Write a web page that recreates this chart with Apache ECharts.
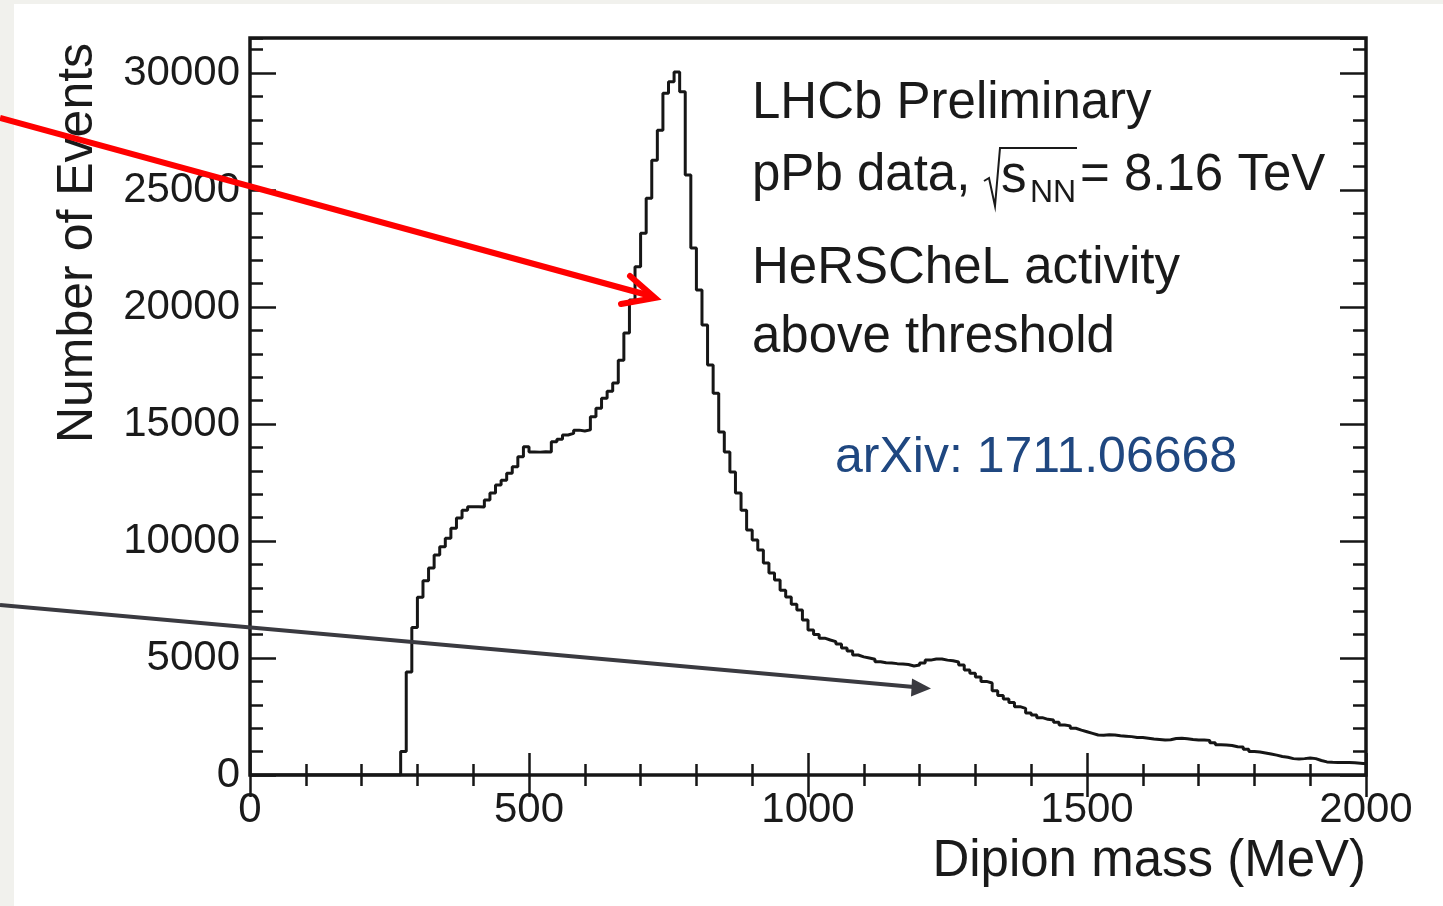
<!DOCTYPE html>
<html>
<head>
<meta charset="utf-8">
<script src="https://cdn.jsdelivr.net/npm/echarts@6/dist/echarts.min.js"></script>
<style>
  html, body { margin: 0; padding: 0; background: #f1f1ed; }
  #paper { position: absolute; left: 14px; top: 4px; width: 1429px; height: 902px; background: #ffffff; }
  #chart { position: absolute; left: 0; top: 0; width: 1443px; height: 906px; }
</style>
</head>
<body>
<div id="paper"></div>
<div id="chart"></div>
<script>
// ---- data ----
const binWidth = 10;           // MeV
const xTickLabels = ['0', '500', '1000', '1500', '2000'];
const yTickLabels = ['0', '5000', '10000', '15000', '20000', '25000', '30000'];
// events per 10 MeV bin, bins starting at 0, 10, 20, ... 1990 MeV
const counts = [
  0,0,0,0,0,0,0,0,0,0, 0,0,0,0,0,0,0,0,0,0, 0,0,0,0,0,0,0,
  1000, 4400, 6300,                                             // 270-290
  7600, 8300, 8850, 9400, 9760, 10120, 10550, 10980, 11320, 11470, // 300-390
  11470, 11450, 11750, 12050, 12390, 12600, 12900, 13170, 13600, 14030, // 400-490
  13810, 13800, 13820, 13810, 14240, 14350, 14530, 14600, 14740, 14700, // 500-590
  14750, 15310, 15680, 16100, 16400, 16750, 17730, 18890, 20300, 21720, // 600-690
  23150, 24650, 26280, 27560, 29140, 29630, 30050, 29200, 25640, 22520, // 700-790
  20730, 19230, 17520, 16320, 14660, 13800, 12950, 12050, 11320, 10470, // 800-890
  10040, 9620, 9060, 8630, 8330, 7900, 7610, 7300, 7050, 6620,          // 900-990
  6200, 6000, 5850, 5770, 5700, 5600, 5430, 5300, 5130, 5050,           // 1000-1090
  5000, 4950, 4840, 4800, 4790, 4760, 4740, 4720, 4660, 4700,           // 1100-1190
  4790, 4910, 4960, 4960, 4910, 4880, 4830, 4700, 4490, 4350,           // 1200-1290
  4190, 4000, 3930, 3600, 3400, 3250, 3100, 2920, 2850, 2650,           // 1300-1390
  2560, 2450, 2380, 2350, 2250, 2140, 2100, 2000, 1920, 1850,           // 1400-1490
  1780, 1710, 1700, 1720, 1710, 1680, 1660, 1640, 1600, 1600,           // 1500-1590
  1570, 1540, 1520, 1500, 1510, 1560, 1570, 1550, 1520, 1500,           // 1600-1690
  1500, 1480, 1380, 1290, 1280, 1260, 1210, 1200, 1100, 1000,           // 1700-1790
  980, 940, 900, 850, 790, 760, 700, 680, 700, 730,                     // 1800-1890
  700, 620, 560, 540, 530, 530, 530, 520, 500, 480                      // 1900-1990
];
const xTitle = 'Dipion mass (MeV)';
const yTitle = 'Number of Events';
const infoLines = ['LHCb Preliminary', 'HeRSCheL activity', 'above threshold'];
const arxivText = 'arXiv: 1711.06668';

// ---- build histogram steps ----
const histData = counts.map((v, i) => [i * binWidth, v]);
histData.push([counts.length * binWidth, counts[counts.length - 1]]);

const chart = echarts.init(document.getElementById('chart'), null, { renderer: 'canvas' });
const FONT = '"Liberation Sans", Arial, Helvetica, sans-serif';
const ink = '#161616';
const txt = '#1a1a1a';

function xAx(pos, showLabel) {
  return {
    type: 'value', position: pos, min: 0, max: 2000, interval: 500,
    axisLine: { show: false },
    splitLine: { show: false },
    axisTick: { show: true, inside: true, length: 22, lineStyle: { color: ink, width: 2.5 } },
    minorTick: { show: true, splitNumber: 5, length: 11, lineStyle: { color: ink, width: 2.5 } },
    axisLabel: showLabel ? {
      show: true, margin: 14, fontSize: 42, color: txt, fontFamily: FONT,
      formatter: v => { const i = xTickLabels.indexOf(String(v)); return i >= 0 ? xTickLabels[i] : ''; }
    } : { show: false }
  };
}
function yAx(pos, interval, len, showLabel) {
  return {
    type: 'value', position: pos, min: 0, max: 31500, interval: interval,
    axisLine: { show: false },
    splitLine: { show: false },
    axisTick: { show: true, inside: true, length: len, lineStyle: { color: ink, width: 2.5 } },
    axisLabel: showLabel ? {
      show: true, margin: 10, fontSize: 42, color: txt, fontFamily: FONT, showMaxLabel: false,
      formatter: v => { const i = yTickLabels.indexOf(String(v)); return i >= 0 ? yTickLabels[i] : ''; }
    } : { show: false }
  };
}

const option = {
  animation: false,
  grid: { left: 250, right: 77, top: 38, bottom: 131, show: true, borderColor: ink, borderWidth: 3.5, backgroundColor: 'transparent' },
  xAxis: [xAx('bottom', true), xAx('top', false)],
  yAxis: [yAx('left', 5000, 26, true), yAx('left', 1000, 13, false), yAx('right', 5000, 26, false), yAx('right', 1000, 13, false)],
  series: [{
    type: 'line', step: 'end', symbol: 'none', xAxisIndex: 0, yAxisIndex: 0,
    data: histData,
    lineStyle: { color: ink, width: 3 },
    z: 3
  }],
  graphic: [
    // y title
    { type: 'text', x: 78, y: 243, rotation: Math.PI / 2, z: 10,
      style: { text: yTitle, font: '50px ' + FONT, fill: txt, textAlign: 'center', textVerticalAlign: 'middle' } },
    // x title
    { type: 'text', x: 1366, y: 862, z: 10,
      style: { text: xTitle, font: '51px ' + FONT, fill: txt, textAlign: 'right', textVerticalAlign: 'middle' } },
    // info text
    { type: 'text', x: 752, y: 104, z: 10,
      style: { text: infoLines[0], font: '51px ' + FONT, fill: txt, textAlign: 'left', textVerticalAlign: 'middle' } },
    { type: 'text', x: 752, y: 176, z: 10,
      style: { text: 'pPb data,', font: '51px ' + FONT, fill: txt, textAlign: 'left', textVerticalAlign: 'middle' } },
    { type: 'polyline', z: 10, shape: { points: [[984, 181], [989, 178], [995, 206], [1000, 148], [1077, 148]] },
      style: { stroke: txt, lineWidth: 2, fill: null } },
    { type: 'text', x: 1001, y: 178, z: 10,
      style: { text: 's', font: '51px ' + FONT, fill: txt, textAlign: 'left', textVerticalAlign: 'middle' } },
    { type: 'text', x: 1030, y: 193, z: 10,
      style: { text: 'NN', font: '32px ' + FONT, fill: txt, textAlign: 'left', textVerticalAlign: 'middle' } },
    { type: 'text', x: 1080, y: 176, z: 10,
      style: { text: '= 8.16 TeV', font: '51px ' + FONT, fill: txt, textAlign: 'left', textVerticalAlign: 'middle' } },
    { type: 'text', x: 752, y: 269, z: 10,
      style: { text: infoLines[1], font: '51px ' + FONT, fill: txt, textAlign: 'left', textVerticalAlign: 'middle' } },
    { type: 'text', x: 752, y: 338, z: 10,
      style: { text: infoLines[2], font: '51px ' + FONT, fill: txt, textAlign: 'left', textVerticalAlign: 'middle' } },
    { type: 'text', x: 835, y: 458, z: 10,
      style: { text: arxivText, font: '50px ' + FONT, fill: '#1f4780', textAlign: 'left', textVerticalAlign: 'middle' } },
    // red arrow
    { type: 'line', z: 20, shape: { x1: 0, y1: 118, x2: 651, y2: 296 },
      style: { stroke: '#ff0000', lineWidth: 6 } },
    { type: 'polyline', z: 20, shape: { points: [[630, 276], [655, 298], [621, 304]] },
      style: { stroke: '#ff0000', lineWidth: 6, fill: null, lineJoin: 'miter', lineCap: 'round' } },
    // grey arrow
    { type: 'line', z: 20, shape: { x1: 0, y1: 605, x2: 914, y2: 687 },
      style: { stroke: '#3a3a40', lineWidth: 4 } },
    { type: 'polygon', z: 20, shape: { points: [[931, 688.5], [912, 678.5], [911, 696.5]] },
      style: { fill: '#3a3a40' } }
  ]
};
chart.setOption(option);
</script>
</body>
</html>
